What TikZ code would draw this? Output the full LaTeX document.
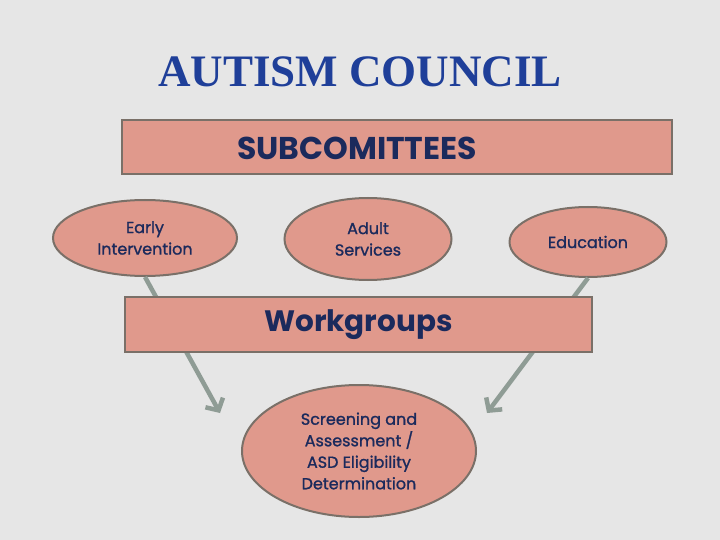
\documentclass[tikz,border=0pt]{standalone}
\usepackage{fontspec}
\setmainfont{Liberation Serif}
\newfontfamily\slidesans{Poppins}
\newfontfamily\slidemedium[FakeBold=1.2]{Poppins}
\usetikzlibrary{arrows.meta}
\usetikzlibrary{shapes.geometric}

\definecolor{slidebg}{HTML}{E6E6E6}
\definecolor{titleblue}{HTML}{1F3F99}
\definecolor{boxfill}{HTML}{E0998C}
\definecolor{boxline}{HTML}{7A7068}
\definecolor{navytext}{HTML}{1B2A5C}
\definecolor{arrowgray}{HTML}{8F9C95}

\tikzset{
    barbox/.style={draw=boxline,fill=boxfill,line width=2pt,inner sep=0pt},
    bubble/.style={ellipse,draw=boxline,fill=boxfill,line width=2pt,inner sep=0pt,
        text=navytext,align=center,font=\slidemedium\fontsize{16}{21.5}\selectfont},
    flow/.style={arrowgray,line width=4.5pt,-{Straight Barb[length=9pt,width=20pt]}}
}

\begin{document}
\begin{tikzpicture}[x=1pt,y=-1pt]

    % slide background
    \fill[slidebg] (0,0) rectangle (720,540);
    \useasboundingbox (0,0) rectangle (720,540);

    \node[text=titleblue,font=\bfseries\fontsize{45}{50}\selectfont] (title) at (360,72) {AUTISM COUNCIL};

    % subcommittee bar
    \node[barbox,minimum width=550pt,minimum height=54pt] (subbar) at (397,147) {};
    \node[text=navytext,font=\slidesans\bfseries\fontsize{31.5}{34}\selectfont] (sublabel) at (357,148) {SUBCOMITTEES};

    % the three subcommittees
    \node[bubble,minimum width=184pt,minimum height=76pt] (early) at (145,238) {Early\\Intervention};
    \node[bubble,minimum width=167pt,minimum height=82pt] (adult) at (368,239) {Adult\\Services};
    \node[bubble,minimum width=157pt,minimum height=70pt] (edu) at (588,242) {Education};

    % arrows go behind the workgroups bar
    \coordinate (tipL) at (220,413);
    \coordinate (tipR) at (487,413);
    \draw[flow] (early.south) -- (tipL);
    \draw[flow] (edu.south) -- (tipR);

    \node[barbox,minimum width=467pt,minimum height=55pt,text=navytext,
        font=\slidesans\bfseries\fontsize{29.5}{34}\selectfont] (work) at (358.5,324.5) {Workgroups};

    \node[bubble,minimum width=234pt,minimum height=132pt] (screen) at (359,451)
        {Screening and\\Assessment /\\ASD Eligibility\\Determination};

\end{tikzpicture}
\end{document}
